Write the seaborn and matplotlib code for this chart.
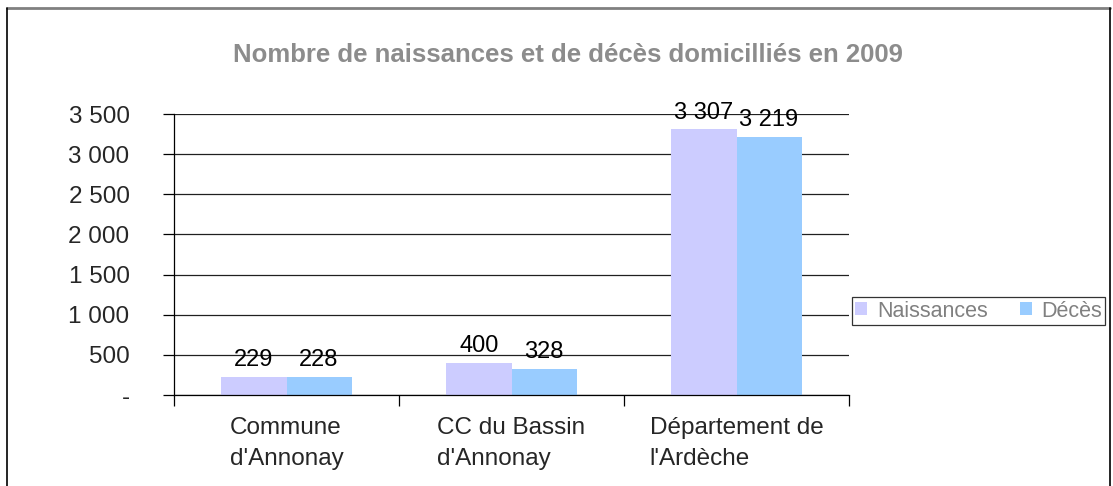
import pandas as pd
import seaborn as sns
import matplotlib.pyplot as plt
from matplotlib.lines import Line2D

# données
zones = ["Commune\nd'Annonay", "CC du Bassin\nd'Annonay", "Département de\nl'Ardèche"]
naissances = [229, 400, 3307]
deces = [228, 328, 3219]
series = ["Naissances", "Décès"]
couleurs = ["#CCCCFF", "#99CCFF"]
yticks = [0, 500, 1000, 1500, 2000, 2500, 3000, 3500]

df = pd.DataFrame({
    "zone": zones * 2,
    "valeur": naissances + deces,
    "serie": [series[0]] * 3 + [series[1]] * 3,
})

sns.set_style("white")
plt.rcParams['font.family'] = ['Liberation Sans', 'DejaVu Sans']

def fmt(v):
    return "-" if v == 0 else f"{v:,}".replace(",", " ")

fig = plt.figure(figsize=(11.13, 4.86), dpi=100)
ax = fig.add_axes([174 / 1113, 91 / 486, 675 / 1113, 281 / 486])

sns.barplot(data=df, x="zone", y="valeur", hue="serie", palette=couleurs,
            width=0.578, gap=0, saturation=1, linewidth=0, ax=ax, legend=True)

# étiquettes de données
for cont, vals in zip(ax.containers, [naissances, deces]):
    ax.bar_label(cont, labels=[fmt(v) for v in vals], padding=4, fontsize=17, color="black")

ax.set_ylim(0, 3500)
ax.set_xlim(-0.5, 2.5)
ax.set_yticks(yticks)
ax.set_yticklabels([fmt(v) for v in yticks], fontsize=17.5)
ax.yaxis.grid(True, color="#202020", linewidth=0.9)
ax.set_axisbelow(True)
ax.tick_params(axis="y", left=True, direction="out", length=8, width=0.9, color="black", pad=24)

ax.set_xticks([0, 1, 2])
ax.set_xticklabels(zones, fontsize=17.5, multialignment="left", linespacing=1.5)
ax.set_xticks([-0.5, 0.5, 1.5, 2.5], minor=True)
ax.tick_params(axis="x", which="major", bottom=False, length=0, pad=16)
ax.tick_params(axis="x", which="minor", bottom=True, direction="out", length=8, width=0.9, color="black")

ax.set_xlabel("")
ax.set_ylabel("")
for s in ["top", "right"]:
    ax.spines[s].set_visible(False)
for s in ["left", "bottom"]:
    ax.spines[s].set_color("black")
    ax.spines[s].set_linewidth(0.9)

# légende
handles, labels = ax.get_legend_handles_labels()
ax.legend_.remove()
leg = fig.legend(handles, labels, loc="center left", bbox_to_anchor=(852 / 1113, 1 - 311 / 486),
                 ncol=2, fontsize=15.5, frameon=True, fancybox=False, handlelength=0.55,
                 handleheight=0.55, handletextpad=0.45, columnspacing=1.5, borderpad=0.15,
                 borderaxespad=0, labelcolor="#808080")
leg.get_frame().set_edgecolor("black")
leg.get_frame().set_linewidth(0.9)

fig.text(568 / 1113, 1 - 55 / 486, "Nombre de naissances et de décès domicilliés en 2009",
         ha="center", va="center", fontsize=18.5, fontweight="bold", color="#8C8C8C")

# cadre du graphique
fig.add_artist(Line2D([7 / 1113, 1110 / 1113], [1 - 8.5 / 486, 1 - 8.5 / 486], color="#808080", linewidth=2))
fig.add_artist(Line2D([7 / 1113, 7 / 1113], [0, 1 - 8 / 486], color="black", linewidth=1.2))
fig.add_artist(Line2D([1110 / 1113, 1110 / 1113], [0, 1 - 8 / 486], color="black", linewidth=1.2))

fig.savefig("out.png", dpi=100)
